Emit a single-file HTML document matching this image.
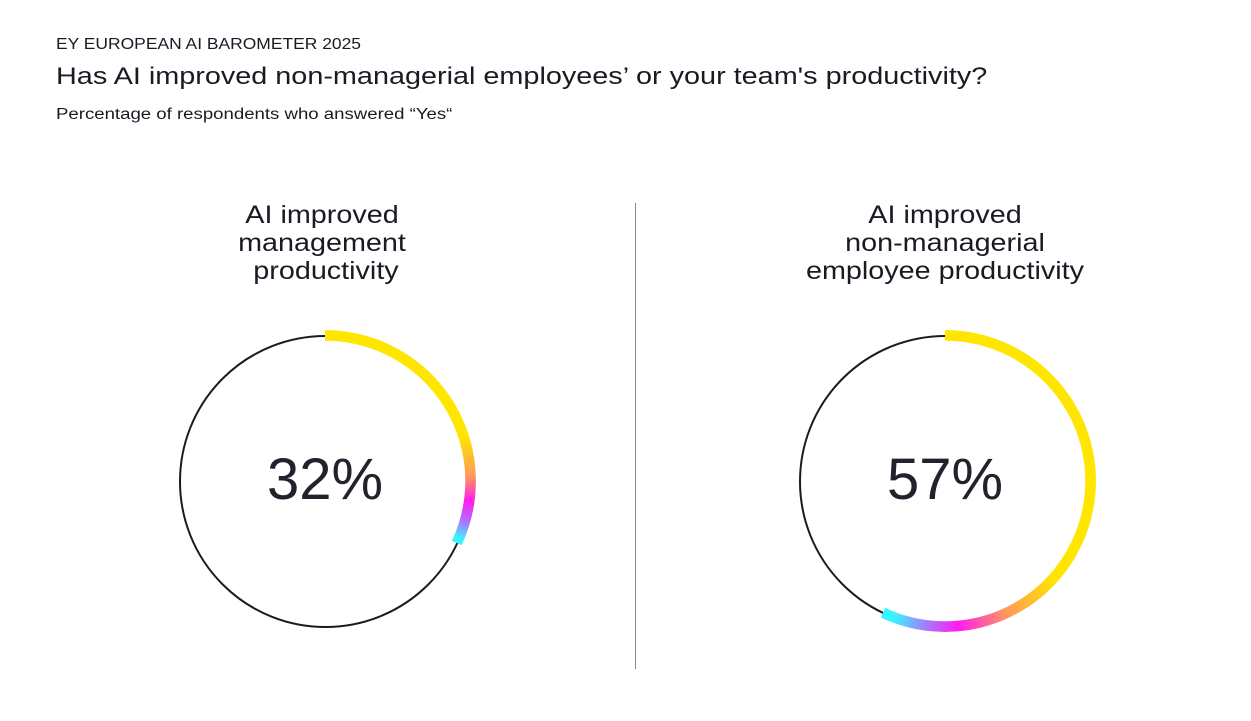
<!DOCTYPE html>
<html><head><meta charset="utf-8"><style>
body{margin:0;background:#fff;width:1251px;height:721px;overflow:hidden;position:relative;font-family:"Liberation Sans",sans-serif;color:#1a1a24}
.t{position:absolute;left:56px;white-space:nowrap;transform-origin:0 0}
.h{position:absolute;text-align:center;font-size:25px;line-height:28px;width:400px;transform:scaleX(1.15);transform-origin:50% 0}
.ring{position:absolute;width:302px;height:302px;border-radius:50%;
-webkit-mask:radial-gradient(circle,transparent 140px,#000 140.5px,#000 151px,transparent 151.5px);
mask:radial-gradient(circle,transparent 140px,#000 140.5px,#000 151px,transparent 151.5px)}
.thin{position:absolute;width:293px;height:293px;border-radius:50%;border:2px solid #1a1a24;box-sizing:border-box}
.p{position:absolute;width:300px;text-align:center;font-size:58px;font-weight:300;color:#22222c}
</style></head><body>
<div class="t" style="top:36px;font-size:16px;transform:scaleX(1.09)">EY EUROPEAN AI BAROMETER 2025</div>
<div class="t" style="top:63px;font-size:24px;transform:scaleX(1.2)">Has AI improved non-managerial employees’ or your team's productivity?</div>
<div class="t" style="top:106px;font-size:15.5px;transform:scaleX(1.2)">Percentage of respondents who answered “Yes“</div>
<div class="h" style="left:122px;top:201px">AI improved<br>management<br>&nbsp;productivity</div>
<div class="h" style="left:745px;top:201px">AI improved<br>non-managerial<br>employee productivity</div>
<div style="position:absolute;left:635px;top:203px;width:1px;height:466px;background:#888"></div>

<div class="thin" style="left:179px;top:335px"></div>
<div class="ring" style="left:174px;top:330px;background:conic-gradient(#ffe600 0deg,#ffe600 72deg,#ff9a5a 88deg,#ff1cf0 98deg,#b070ff 106deg,#3ff0ff 113deg,#30f8ff 115.2deg,transparent 115.2deg)"></div>
<div class="p" style="left:175px;top:446px">32%</div>

<div class="thin" style="left:799px;top:335px"></div>
<div class="ring" style="left:794px;top:330px;background:conic-gradient(#ffe600 0deg,#ffe600 132deg,#ff9a5a 155deg,#ff1cf0 175deg,#a080ff 188deg,#3ff0ff 200deg,#30f8ff 205.2deg,transparent 205.2deg)"></div>
<div class="p" style="left:795px;top:446px">57%</div>
</body></html>
